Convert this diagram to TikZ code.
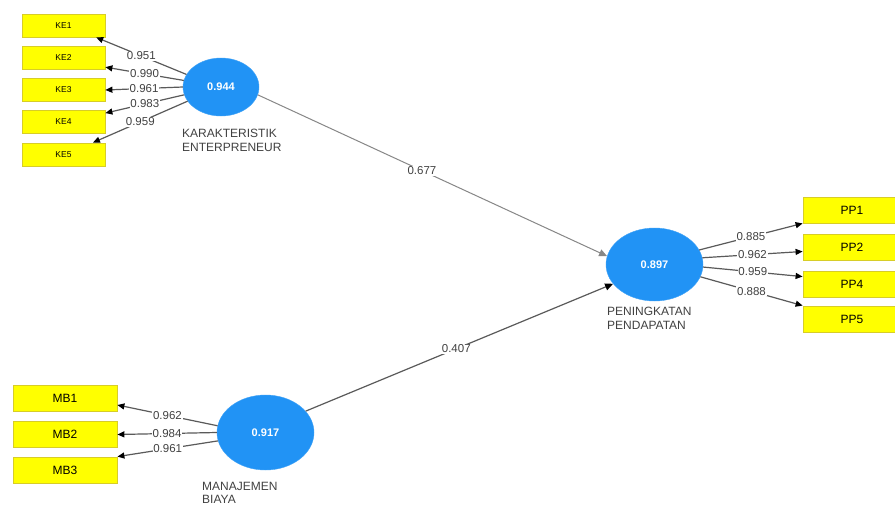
\documentclass[tikz,border=0pt]{standalone}
\usepackage{fontspec}
\setmainfont{Liberation Sans}
\usetikzlibrary{shapes.geometric,arrows.meta,calc}
\definecolor{boxyellow}{RGB}{255,255,0}
\definecolor{boxedge}{RGB}{215,205,40}
\definecolor{lvblue}{RGB}{33,147,245}
\definecolor{linegray}{RGB}{90,90,90}
\definecolor{lightline}{RGB}{135,135,135}
\definecolor{txtgray}{RGB}{65,65,65}
\begin{document}
\begin{tikzpicture}[x=1pt,y=-1pt,
 ind/.style={draw=boxedge, fill=boxyellow, line width=0.8pt, minimum width=83pt, minimum height=23pt, inner sep=0pt, font=\fontsize{8.5}{10}\selectfont},
 indbig/.style={ind, minimum width=104pt, minimum height=26pt, font=\fontsize{12}{13}\selectfont},
 lv/.style={ellipse, fill=lvblue, draw=lvblue!85!white, inner sep=0pt, text=white, font=\bfseries\fontsize{11}{12}\selectfont},
 lvname/.style={anchor=north west, align=left, inner sep=0pt, text=txtgray, font=\fontsize{12}{14}\selectfont},
 load/.style={draw=linegray, line width=1.2pt, -{Triangle[length=7pt,width=6pt,color=black]}},
 path/.style={draw=linegray, line width=1.2pt, -{Triangle[length=8pt,width=7pt,color=black]}},
 pathlight/.style={draw=lightline, line width=1pt, -{Triangle[length=8pt,width=7pt,color=lightline]}},
 coef/.style={fill=white, inner sep=0.8pt, text=txtgray, font=\fontsize{11.5}{12}\selectfont},
]
\clip (0,0) rectangle (895,509);
\fill[white] (0,0) rectangle (895,509);

% indicator boxes
\node[ind] (ke1) at (63.5,25.5) {KE1};
\node[ind] (ke2) at (63.5,57.5) {KE2};
\node[ind] (ke3) at (63.5,90) {KE3};
\node[ind] (ke4) at (63.5,122) {KE4};
\node[ind] (ke5) at (63.5,154.5) {KE5};

\node[indbig] (mb1) at (65,398) {MB1};
\node[indbig] (mb2) at (65,434.5) {MB2};
\node[indbig] (mb3) at (65,470) {MB3};

\node[indbig, minimum width=98pt] (pp1) at (852,210) {PP1};
\node[indbig, minimum width=98pt] (pp2) at (852,247.5) {PP2};
\node[indbig, minimum width=98pt] (pp4) at (852,284) {PP4};
\node[indbig, minimum width=98pt] (pp5) at (852,319) {PP5};

% latent variables
\node[lv, minimum width=76pt, minimum height=58pt] (ke) at (221,87) {0.944};
\node[lv, minimum width=97pt, minimum height=73pt] (pp) at (654.5,264.5) {0.897};
\node[lv, minimum width=97pt, minimum height=75pt] (mb) at (265.5,432.5) {0.917};

\node[lvname] (kename) at (182,129) {KARAKTERISTIK\\ENTERPRENEUR};
\node[lvname] (ppname) at (607,307) {PENINGKATAN\\PENDAPATAN};
\node[lvname, font=\fontsize{12}{13}\selectfont] (mbname) at (202,482) {MANAJEMEN\\BIAYA};

% outer loadings KE
\draw[load] (ke.160) -- node[coef]{0.951} (ke1.-20);
\draw[load] (ke.170) -- node[coef]{0.990} (ke2.-13);
\draw[load] (ke.180) -- node[coef]{0.961} (ke3.east);
\draw[load] (ke.192) -- node[coef]{0.983} (ke4.12);
\draw[load] (ke.203) -- node[coef]{0.959} (ke5.22);

% outer loadings PP
\draw[load] (pp.18) -- node[coef]{0.885} (pp1.south west);
\draw[load] (pp.8) -- node[coef]{0.962} ($(pp2.west)+(0,4)$);
\draw[load] (pp.-3) -- node[coef]{0.959} ($(pp4.north west)+(0,6)$);
\draw[load] (pp.-15) -- node[coef]{0.888} (pp5.north west);

% outer loadings MB
\draw[load] (mb.172) -- node[coef]{0.962} ($(mb1.east)+(0,7)$);
\draw[load] (mb.180) -- node[coef]{0.984} (mb2.east);
\draw[load] (mb.190) -- node[coef]{0.961} (mb3.north east);

% structural paths
\draw[pathlight] (ke.-12) -- node[coef, pos=.47]{0.677} (pp.170);
\draw[path] (mb.28) -- node[coef, pos=.49]{0.407} (pp.205);
\end{tikzpicture}
\end{document}
